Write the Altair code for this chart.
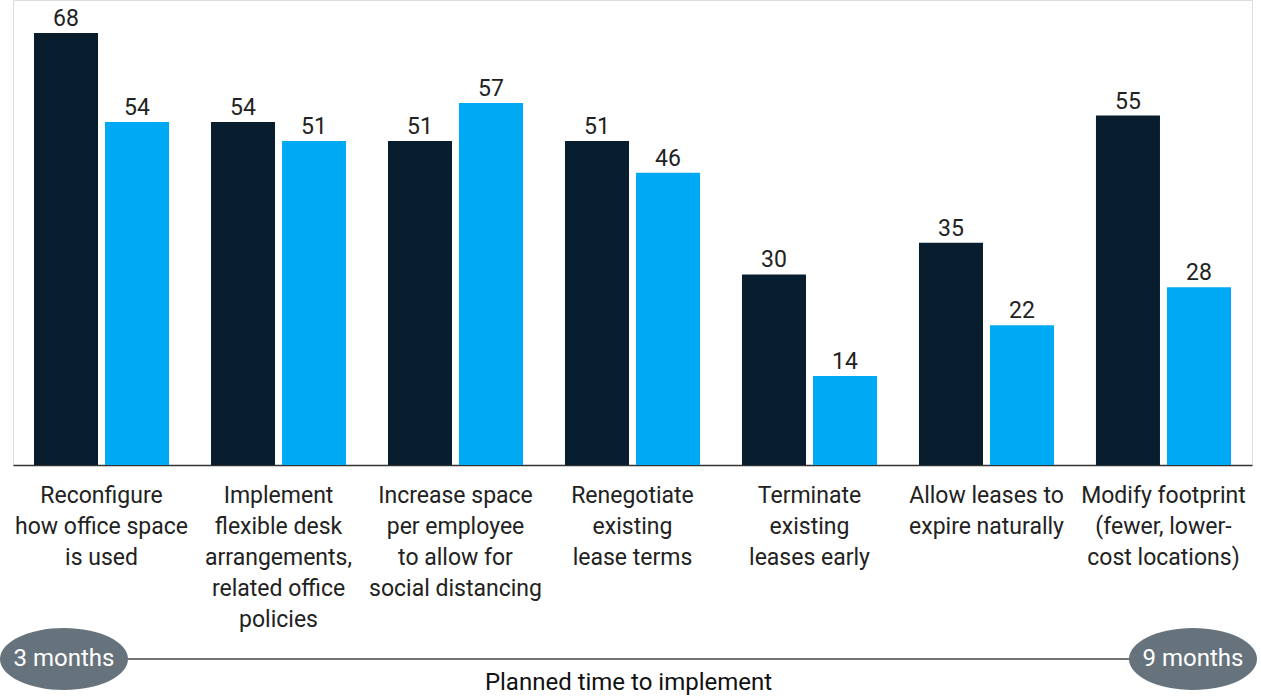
import altair as alt
import pandas as pd

# ---- data ----
categories = [
    "Reconfigure|how office space|is used",
    "Implement|flexible desk|arrangements,|related office|policies",
    "Increase space|per employee|to allow for|social distancing",
    "Renegotiate|existing|lease terms",
    "Terminate|existing|leases early",
    "Allow leases to|expire naturally",
    "Modify footprint|(fewer, lower-|cost locations)",
]
series = ["3 months", "9 months"]
values_3m = [68, 54, 51, 51, 30, 35, 55]
values_9m = [54, 51, 57, 46, 14, 22, 28]
colors = ["#081e2e", "#00a9f4"]

months = [3, 9]
month_labels = ["3 months", "9 months"]
timeline_title = ["Planned time to implement"]
timeline_mid = [6]

rows = []
for c, a, b in zip(categories, values_3m, values_9m):
    rows.append({"category": c, "series": series[0], "value": a})
    rows.append({"category": c, "series": series[1], "value": b})
df = pd.DataFrame(rows)

tl = pd.DataFrame({"month": months, "label": month_labels})
tl_span = pd.DataFrame({"start": [months[0]], "end": [months[1]]})
tl_title = pd.DataFrame({"month": timeline_mid, "label": timeline_title})

FONT = "Roboto"
LINE_Y = 659

xscale = alt.Scale(paddingInner=0.237, paddingOuter=0.1186)
offscale = alt.Scale(paddingInner=0.0986, paddingOuter=0)
yscale = alt.Scale(domain=[0, 73.2])
cscale = alt.Scale(domain=series, range=colors)
tscale = alt.Scale(domain=[2.729, 9.3136], nice=False, zero=False)

xaxis = alt.Axis(
    title=None,
    labelAngle=0,
    labelExpr="split(datum.label, '|')",
    labelFontSize=23,
    labelLineHeight=31,
    labelColor="#222222",
    labelFont=FONT,
    labelPadding=19,
    labelLimit=300,
    ticks=False,
    domainColor="#333333",
    domainWidth=1.5,
    grid=False,
)

base = alt.Chart(df).encode(
    x=alt.X("category:N", sort=categories, scale=xscale, axis=xaxis),
    xOffset=alt.XOffset("series:N", sort=series, scale=offscale),
    y=alt.Y("value:Q", scale=yscale, axis=None),
)

bars = base.mark_bar().encode(
    color=alt.Color("series:N", scale=cscale, legend=None),
)

labels = base.mark_text(
    baseline="alphabetic", dy=-7, fontSize=23, font=FONT, color="#222222"
).encode(
    text=alt.Text("value:Q"),
)

rule = alt.Chart(tl_span).mark_rule(color="#444444", strokeWidth=1.5).encode(
    x=alt.X("start:Q", scale=tscale, axis=None),
    x2="end:Q",
    y=alt.value(LINE_Y),
)

ellipse_path = "M-1,0 A1,0.484 0 1,0 1,0 A1,0.484 0 1,0 -1,0 Z"
ellipses = alt.Chart(tl).mark_point(
    shape=ellipse_path, filled=True, size=16384, color="#66737c", opacity=1
).encode(
    x=alt.X("month:Q", scale=tscale, axis=None),
    y=alt.value(LINE_Y),
)

ell_text = alt.Chart(tl).mark_text(
    fontSize=24, font=FONT, color="white", baseline="middle"
).encode(
    x=alt.X("month:Q", scale=tscale, axis=None),
    y=alt.value(LINE_Y),
    text="label:N",
)

title_text = alt.Chart(tl_title).mark_text(
    fontSize=24, font=FONT, color="#111111", baseline="middle"
).encode(
    x=alt.X("month:Q", scale=tscale, axis=None),
    y=alt.value(LINE_Y + 24),
    text="label:N",
)

chart = (
    alt.layer(alt.layer(bars, labels), rule, ellipses, ell_text, title_text)
    .resolve_scale(x="independent")
    .properties(
        width=1239,
        height=465,
        autosize=alt.AutoSizeParams(type="none"),
        padding={"left": 13, "top": 0, "right": 9, "bottom": 231},
    )
    .configure_view(strokeWidth=0, stroke="transparent")
    .configure(font=FONT)
)

chart.save("out.html", embed_options={"renderer": "svg", "actions": False})
